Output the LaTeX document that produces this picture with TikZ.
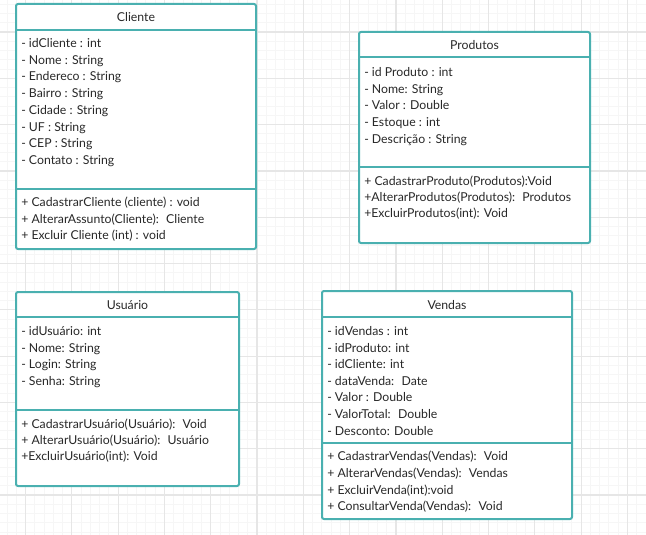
\documentclass[tikz,border=0pt]{standalone}
\usepackage{fontspec}
\setmainfont{Lato}
\definecolor{umlteal}{RGB}{74,176,176}
\definecolor{gridmajor}{RGB}{230,230,230}
\definecolor{gridminor}{RGB}{246,246,246}
\definecolor{umltext}{RGB}{40,40,40}
\tikzset{
  classbox/.style={draw=umlteal, line width=1.5pt, rounded corners=1.5pt, fill=white},
  classrule/.style={draw=umlteal, line width=1.5pt},
  classtitle/.style={inner sep=0pt, anchor=base, text=umltext, font=\fontsize{9.2}{11}\selectfont},
  member/.style={inner sep=0pt, anchor=base west, text=umltext, font=\fontsize{9.2}{11}\selectfont},
}

\begin{document}
\begin{tikzpicture}[x=0.75pt,y=0.75pt,yscale=-1,xscale=1]
	\useasboundingbox (0,0) rectangle (646,535);
	\fill[white] (0,0) rectangle (646,535);
	% grid
	\foreach \k in {-2,...,67} \draw[gridminor, line width=0.6pt] ({25.5+9.26*\k},0) -- ({25.5+9.26*\k},535);
	\foreach \k in {-3,...,54} \draw[gridminor, line width=0.6pt] (0,{32+9.26*\k}) -- (646,{32+9.26*\k});
	\foreach \k in {0,...,13} \draw[gridmajor, line width=0.9pt] ({25.5+46.3*\k},0) -- ({25.5+46.3*\k},535);
	\foreach \k in {0,...,10} \draw[gridmajor, line width=0.9pt] (0,{32+46.3*\k}) -- (646,{32+46.3*\k});

	% Cliente
	\draw[classbox] (16,4) rectangle (256,249);
	\draw[classrule] (16,30) -- (256,30);
	\draw[classrule] (16,189) -- (256,189);
	\node[classtitle] (cliente) at (136,21.5) {Cliente};
	\foreach \m [count=\i] in {{- idCliente : int}, {- Nome : String}, {- Endereco : String}, {- Bairro : String}, {- Cidade : String}, {- UF : String}, {- CEP : String}, {- Contato : String}}
		\node[member] (clienteAttr\i) at (21,{47.5+16.7*(\i-1)}) {\m};
	\foreach \m [count=\i] in {{+ CadastrarCliente (cliente) : void}, {+ AlterarAssunto(Cliente):~ Cliente}, {+ Excluir Cliente (int) : void}}
		\node[member] (clienteOp\i) at (21,{206.5+16.7*(\i-1)}) {\m};

	% Produtos
	\draw[classbox] (359,32) rectangle (590,243);
	\draw[classrule] (359,57) -- (590,57);
	\draw[classrule] (359,167) -- (590,167);
	\node[classtitle] (produtos) at (474.5,49.5) {Produtos};
	\foreach \m [count=\i] in {{- id Produto : int}, {- Nome: String}, {- Valor : Double}, {- Estoque : int}, {- Descrição : String}}
		\node[member] (produtosAttr\i) at (364,{76.5+16.7*(\i-1)}) {\m};
	\foreach \m [count=\i] in {{+ CadastrarProduto(Produtos):Void}, {+AlterarProdutos(Produtos):~ Produtos}, {+ExcluirProdutos(int): Void}}
		\node[member] (produtosOp\i) at (364,{185.5+16.2*(\i-1)}) {\m};

	% Usuario
	\draw[classbox] (16,292) rectangle (239,486);
	\draw[classrule] (16,317) -- (239,317);
	\draw[classrule] (16,410) -- (239,410);
	\node[classtitle] (usuario) at (127.5,309.5) {Usuário};
	\foreach \m [count=\i] in {{- idUsuário: int}, {- Nome: String}, {- Login: String}, {- Senha: String}}
		\node[member] (usuarioAttr\i) at (21,{335.5+16.7*(\i-1)}) {\m};
	\foreach \m [count=\i] in {{+ CadastrarUsuário(Usuário):~ Void}, {+ AlterarUsuário(Usuário):~ Usuário}, {+ExcluirUsuário(int): Void}}
		\node[member] (usuarioOp\i) at (21,{428.5+16.2*(\i-1)}) {\m};

	% Vendas
	\draw[classbox] (322,291) rectangle (572,519);
	\draw[classrule] (322,317) -- (572,317);
	\draw[classrule] (322,443) -- (572,443);
	\node[classtitle] (vendas) at (447,309.5) {Vendas};
	\foreach \m [count=\i] in {{- idVendas : int}, {- idProduto: int}, {- idCliente: int}, {- dataVenda:~ Date}, {- Valor : Double}, {- ValorTotal:~ Double}, {- Desconto: Double}}
		\node[member] (vendasAttr\i) at (327,{335.5+16.6*(\i-1)}) {\m};
	\foreach \m [count=\i] in {{+ CadastrarVendas(Vendas):~ Void}, {+ AlterarVendas(Vendas):~ Vendas}, {+ ExcluirVenda(int):void}, {+ ConsultarVenda(Vendas):~ Void}}
		\node[member] (vendasOp\i) at (327,{460.5+16.8*(\i-1)}) {\m};
\end{tikzpicture}
\end{document}
